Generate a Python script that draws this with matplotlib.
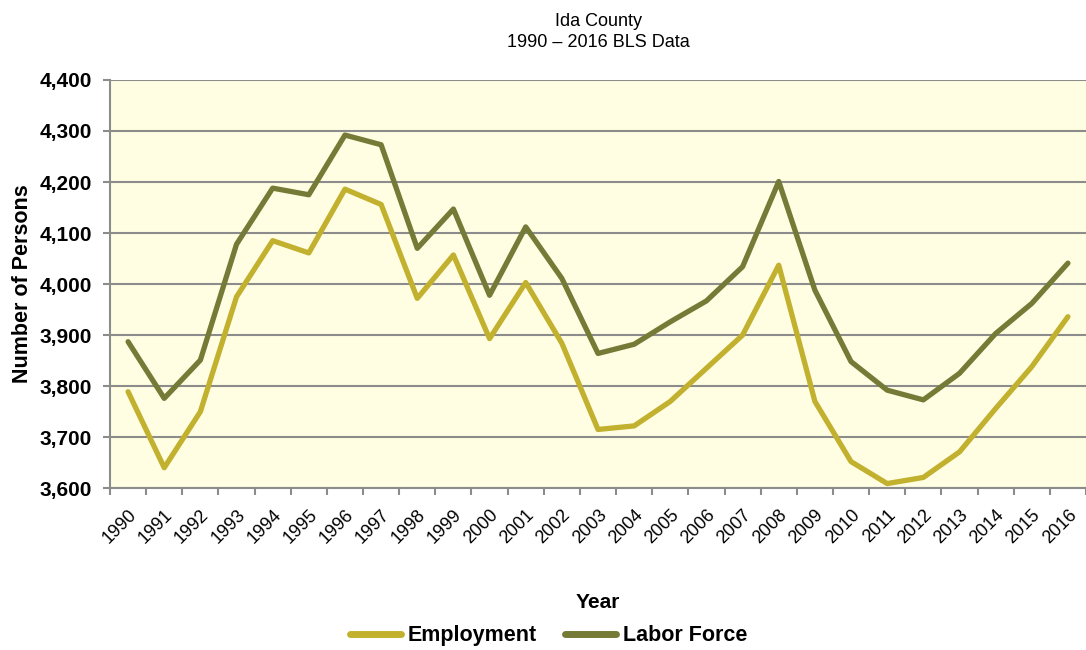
import matplotlib
matplotlib.use("Agg")
import matplotlib.pyplot as plt
from matplotlib.ticker import FuncFormatter, MultipleLocator
from matplotlib.transforms import ScaledTranslation
import numpy as np

plt.rcParams['font.family'] = ['Liberation Sans', 'DejaVu Sans']

years = [str(y) for y in range(1990, 2017)]
employment = [3789, 3640, 3750, 3975, 4085, 4061, 4186, 4156, 3972, 4057,
              3893, 4003, 3884, 3715, 3722, 3770, 3835, 3900, 4037, 3770,
              3652, 3609, 3621, 3671, 3756, 3838, 3936]
labor_force = [3887, 3776, 3851, 4078, 4188, 4175, 4292, 4273, 4070, 4147,
               3978, 4112, 4011, 3864, 3882, 3926, 3967, 4034, 4201, 3988,
               3848, 3792, 3773, 3825, 3903, 3962, 4041]

emp_color = "#C2B02F"
lab_color = "#767A37"
grid_color = "#8C8C8C"

fig = plt.figure(figsize=(10.86, 6.5), dpi=100)
ax = fig.add_axes([0.1013, 0.249, 0.8987, 0.628])
ax.set_facecolor("#FFFEE2")

x = np.arange(len(years))
ax.plot(x, employment, color=emp_color, lw=3.8, label="Employment", solid_joinstyle="round", solid_capstyle="round", zorder=3)
ax.plot(x, labor_force, color=lab_color, lw=3.8, label="Labor Force", solid_joinstyle="round", solid_capstyle="round", zorder=3)

ax.set_xlim(-0.5, len(years) - 0.5)
ax.set_ylim(3600, 4400)
ax.yaxis.set_major_locator(MultipleLocator(100))
ax.yaxis.set_major_formatter(FuncFormatter(lambda v, p: f"{int(v):,}"))
ax.grid(axis="y", color=grid_color, lw=1.5, zorder=1)
ax.set_axisbelow(True)

ax.set_xticks(x)
ax.set_xticklabels(years, rotation=45, ha="right", rotation_mode="anchor", fontsize=13)
shift = ScaledTranslation(4 / 72, 0, fig.dpi_scale_trans)
for lbl in ax.get_xticklabels():
    lbl.set_transform(lbl.get_transform() + shift)
ax.set_xticks(np.arange(-0.5, len(years)), minor=True)
ax.tick_params(axis="x", which="major", length=0, pad=13)
ax.tick_params(axis="x", which="minor", length=5, width=1.5, color=grid_color)
ax.tick_params(axis="y", length=5, width=1.5, color=grid_color, labelsize=15, pad=8)
for lbl in ax.get_yticklabels():
    lbl.set_fontweight("bold")

for s in ["top", "right"]:
    ax.spines[s].set_visible(False)
for s in ["left", "bottom"]:
    ax.spines[s].set_color(grid_color)
    ax.spines[s].set_linewidth(1.5)

ax.set_xlabel("Year", fontsize=15, fontweight="bold", labelpad=33)
ax.set_ylabel("Number of Persons", fontsize=15.5, fontweight="bold", labelpad=5)
ax.set_title("Ida County\n1990 \u2013 2016 BLS Data", fontsize=13, pad=24, linespacing=1.3)

leg = fig.legend(loc="center", bbox_to_anchor=(0.505, 0.022), ncol=2, frameon=False,
                 prop={"weight": "bold", "size": 15.5}, handlelength=2.4,
                 handletextpad=0.3, columnspacing=1.3)
for h in leg.get_lines():
    h.set_linewidth(5)

fig.savefig("out.png", dpi=100)
